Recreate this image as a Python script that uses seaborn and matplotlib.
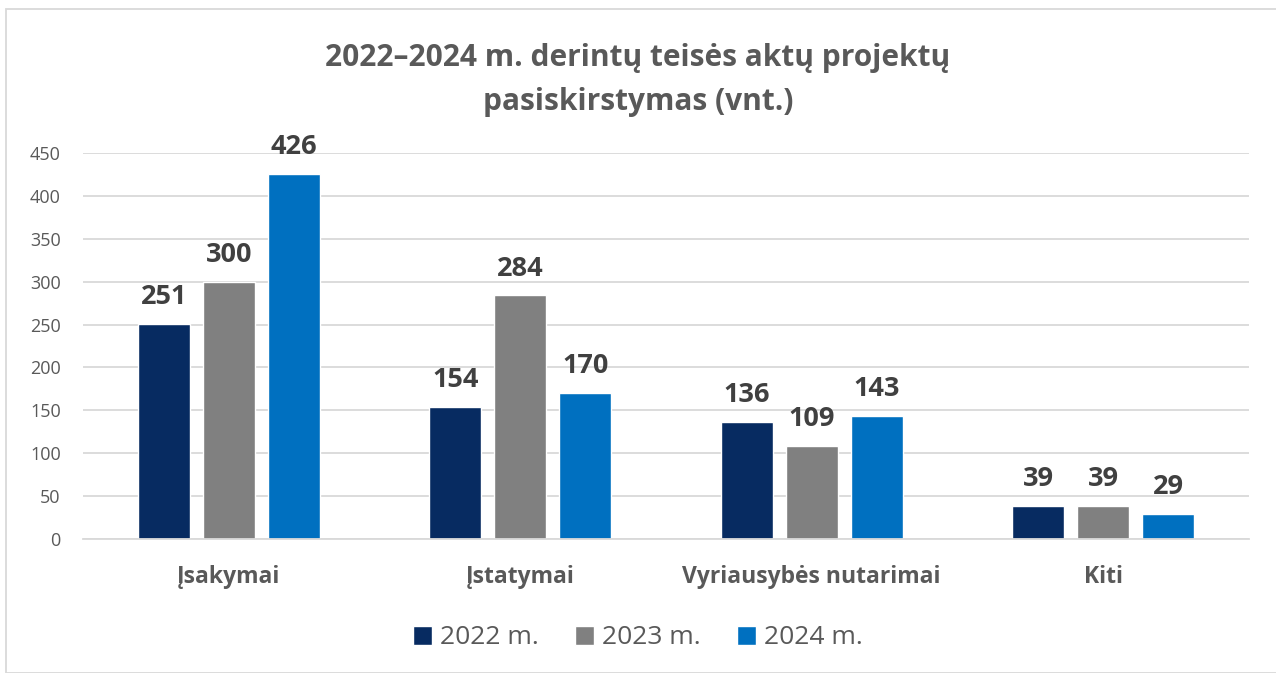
import matplotlib
matplotlib.use("Agg")
import matplotlib.pyplot as plt
import seaborn as sns
import pandas as pd
from matplotlib.patches import Rectangle

# chart data
categories = ["Įsakymai", "Įstatymai", "Vyriausybės nutarimai", "Kiti"]
years = ["2022 m.", "2023 m.", "2024 m."]
v2022 = [251, 154, 136, 39]
v2023 = [300, 284, 109, 39]
v2024 = [426, 170, 143, 29]
colors = ["#072B61", "#808080", "#0070C0"]

df = pd.DataFrame({
    "Kategorija": categories * 3,
    "Metai": [y for y in years for _ in categories],
    "Vnt": v2022 + v2023 + v2024,
})

sns.set_theme(style="white")
plt.rcParams["font.family"] = ["Open Sans", "DejaVu Sans"]

fig = plt.figure(figsize=(12.76, 6.73), dpi=100)
ax = fig.add_axes([83 / 1276, 1 - 539 / 673, 1166 / 1276, 386 / 673])

sns.barplot(data=df, x="Kategorija", y="Vnt", hue="Metai", palette=colors,
            width=0.668, gap=0.2, saturation=1, ax=ax, legend=True)

ax.set_ylim(0, 450)
ax.set_xlim(-0.5, 3.5)
ax.set_yticks(range(0, 451, 50))
ax.yaxis.grid(True, color="#D9D9D9", linewidth=1.3)
ax.set_axisbelow(True)
for s in ["top", "right", "left"]:
    ax.spines[s].set_visible(False)
ax.spines["bottom"].set_color("#D9D9D9")
ax.spines["bottom"].set_linewidth(1.3)
ax.set_xlabel("")
ax.set_ylabel("")
ax.tick_params(axis="y", length=0, labelsize=13, labelcolor="#595959", pad=16)
ax.tick_params(axis="x", length=0, labelsize=16.5, labelcolor="#595959", pad=19)
for t in ax.get_xticklabels():
    t.set_fontweight("bold")

for c in ax.containers:
    ax.bar_label(c, fmt="%d", padding=10, fontsize=19.5, fontweight="bold", color="#404040")

fig.text(0.5, 1 - 58 / 673, "2022–2024 m. derintų teisės aktų projektų",
         ha="center", va="center", fontsize=21.5, fontweight="bold", color="#595959")
fig.text(0.5, 1 - 102 / 673, "pasiskirstymas (vnt.)",
         ha="center", va="center", fontsize=21.5, fontweight="bold", color="#595959")

leg = ax.legend(loc="center", bbox_to_anchor=(0.5, 1 - 638 / 673), bbox_transform=fig.transFigure,
                ncol=3, frameon=False, fontsize=19, handlelength=0.7, handleheight=0.7,
                handletextpad=0.3, columnspacing=1.4)
for t in leg.get_texts():
    t.set_color("#595959")

# chart frame
fig.patches.append(Rectangle((6 / 1276, 0), 2, 1 - 9 / 673, transform=fig.transFigure,
                             fill=False, edgecolor="#D9D9D9", linewidth=1.3))

fig.savefig("out.png", dpi=100)
